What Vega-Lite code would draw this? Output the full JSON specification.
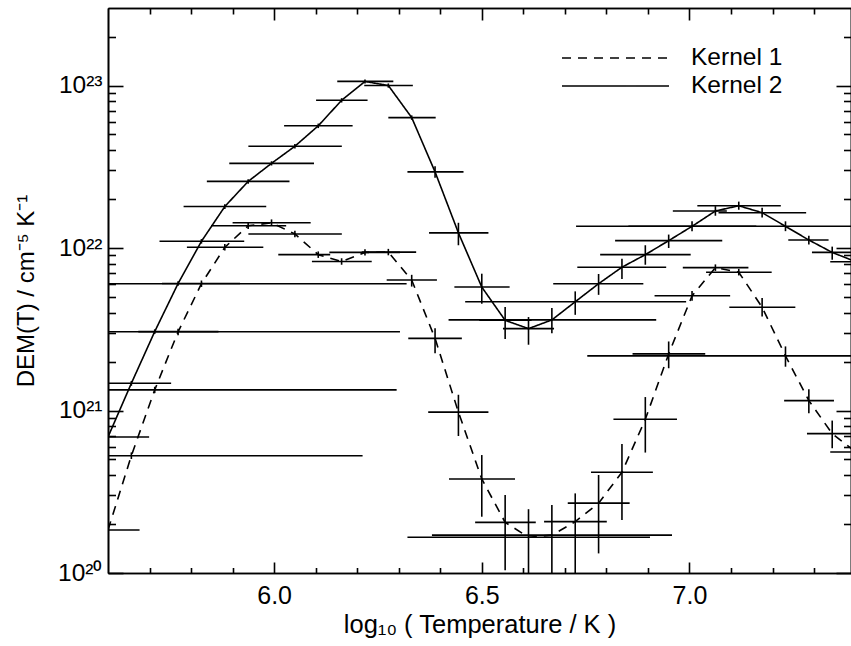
{
  "$schema": "https://vega.github.io/schema/vega-lite/v6.json",
  "width": 743,
  "height": 565,
  "autosize": {"type": "none"},
  "padding": {"left": 108, "top": 8, "right": 0, "bottom": 73},
  "background": "white",
  "config": {
    "view": {"stroke": null},
    "font": "Liberation Sans",
    "axis": {
      "grid": false,
      "domainColor": "black",
      "tickColor": "black",
      "labelColor": "black",
      "titleColor": "black",
      "domainWidth": 1.6,
      "tickWidth": 1.6,
      "labelFont": "Liberation Sans",
      "titleFont": "Liberation Sans",
      "titleFontWeight": "normal",
      "labelFlush": false,
      "labelOverlap": false
    }
  },
  "data": {
    "values": [
      {"kernel": "Kernel 2", "t": 5.6, "dem": 6.87e20, "tlo": 5.5, "thi": 5.699, "dlo": 6.6e20, "dhi": 7.15e20},
      {"kernel": "Kernel 2", "t": 5.65625, "dem": 1.47e21, "tlo": 5.5, "thi": 5.752, "dlo": 1.42e21, "dhi": 1.52e21},
      {"kernel": "Kernel 2", "t": 5.7125, "dem": 3.06e21, "tlo": 5.673, "thi": 5.866, "dlo": 2.96e21, "dhi": 3.16e21},
      {"kernel": "Kernel 2", "t": 5.76875, "dem": 6.05e21, "tlo": 5.73, "thi": 5.918, "dlo": 5.85e21, "dhi": 6.25e21},
      {"kernel": "Kernel 2", "t": 5.825, "dem": 1.10e22, "tlo": 5.724, "thi": 5.928, "dlo": 1.065e22, "dhi": 1.135e22},
      {"kernel": "Kernel 2", "t": 5.88125, "dem": 1.80e22, "tlo": 5.782, "thi": 5.981, "dlo": 1.74e22, "dhi": 1.86e22},
      {"kernel": "Kernel 2", "t": 5.9375, "dem": 2.57e22, "tlo": 5.838, "thi": 6.037, "dlo": 2.49e22, "dhi": 2.65e22},
      {"kernel": "Kernel 2", "t": 5.99375, "dem": 3.32e22, "tlo": 5.892, "thi": 6.096, "dlo": 3.22e22, "dhi": 3.42e22},
      {"kernel": "Kernel 2", "t": 6.05, "dem": 4.23e22, "tlo": 5.938, "thi": 6.163, "dlo": 4.10e22, "dhi": 4.36e22},
      {"kernel": "Kernel 2", "t": 6.10625, "dem": 5.65e22, "tlo": 6.024, "thi": 6.189, "dlo": 5.47e22, "dhi": 5.83e22},
      {"kernel": "Kernel 2", "t": 6.1625, "dem": 8.11e22, "tlo": 6.101, "thi": 6.225, "dlo": 7.86e22, "dhi": 8.36e22},
      {"kernel": "Kernel 2", "t": 6.21875, "dem": 1.06e23, "tlo": 6.152, "thi": 6.287, "dlo": 1.03e23, "dhi": 1.09e23},
      {"kernel": "Kernel 2", "t": 6.275, "dem": 1.00e23, "tlo": 6.217, "thi": 6.334, "dlo": 0.97e23, "dhi": 1.03e23},
      {"kernel": "Kernel 2", "t": 6.33125, "dem": 6.35e22, "tlo": 6.275, "thi": 6.389, "dlo": 6.15e22, "dhi": 6.55e22},
      {"kernel": "Kernel 2", "t": 6.3875, "dem": 2.94e22, "tlo": 6.321, "thi": 6.456, "dlo": 2.71e22, "dhi": 3.19e22},
      {"kernel": "Kernel 2", "t": 6.44375, "dem": 1.24e22, "tlo": 6.373, "thi": 6.516, "dlo": 1.04e22, "dhi": 1.43e22},
      {"kernel": "Kernel 2", "t": 6.5, "dem": 5.75e21, "tlo": 6.434, "thi": 6.567, "dlo": 4.54e21, "dhi": 6.95e21},
      {"kernel": "Kernel 2", "t": 6.55625, "dem": 3.59e21, "tlo": 6.494, "thi": 6.62, "dlo": 2.75e21, "dhi": 4.33e21},
      {"kernel": "Kernel 2", "t": 6.6125, "dem": 3.19e21, "tlo": 6.551, "thi": 6.674, "dlo": 2.54e21, "dhi": 3.76e21},
      {"kernel": "Kernel 2", "t": 6.66875, "dem": 3.61e21, "tlo": 6.42, "thi": 6.92, "dlo": 2.99e21, "dhi": 4.27e21},
      {"kernel": "Kernel 2", "t": 6.725, "dem": 4.67e21, "tlo": 6.46, "thi": 6.992, "dlo": 3.88e21, "dhi": 5.41e21},
      {"kernel": "Kernel 2", "t": 6.78125, "dem": 6.03e21, "tlo": 6.672, "thi": 6.889, "dlo": 5.15e21, "dhi": 6.92e21},
      {"kernel": "Kernel 2", "t": 6.8375, "dem": 7.62e21, "tlo": 6.73, "thi": 6.944, "dlo": 6.44e21, "dhi": 8.59e21},
      {"kernel": "Kernel 2", "t": 6.89375, "dem": 9.10e21, "tlo": 6.785, "thi": 7.003, "dlo": 7.89e21, "dhi": 1.04e22},
      {"kernel": "Kernel 2", "t": 6.95, "dem": 1.11e22, "tlo": 6.821, "thi": 7.079, "dlo": 1.0e22, "dhi": 1.21e22},
      {"kernel": "Kernel 2", "t": 7.00625, "dem": 1.36e22, "tlo": 6.853, "thi": 7.161, "dlo": 1.27e22, "dhi": 1.46e22},
      {"kernel": "Kernel 2", "t": 7.0625, "dem": 1.69e22, "tlo": 6.96, "thi": 7.09, "dlo": 1.58e22, "dhi": 1.81e22},
      {"kernel": "Kernel 2", "t": 7.11875, "dem": 1.82e22, "tlo": 7.019, "thi": 7.22, "dlo": 1.72e22, "dhi": 1.93e22},
      {"kernel": "Kernel 2", "t": 7.175, "dem": 1.65e22, "tlo": 7.07, "thi": 7.281, "dlo": 1.54e22, "dhi": 1.77e22},
      {"kernel": "Kernel 2", "t": 7.23125, "dem": 1.36e22, "tlo": 6.727, "thi": 7.45, "dlo": 1.27e22, "dhi": 1.46e22},
      {"kernel": "Kernel 2", "t": 7.2875, "dem": 1.12e22, "tlo": 7.238, "thi": 7.335, "dlo": 1.05e22, "dhi": 1.19e22},
      {"kernel": "Kernel 2", "t": 7.34375, "dem": 9.40e21, "tlo": 7.295, "thi": 7.45, "dlo": 8.47e21, "dhi": 1.02e22},
      {"kernel": "Kernel 2", "t": 7.4, "dem": 8.24e21, "tlo": 7.339, "thi": 7.46, "dlo": 7.69e21, "dhi": 8.83e21},
      {"kernel": "Kernel 1", "t": 5.6, "dem": 1.84e20, "tlo": 5.5, "thi": 5.676, "dlo": 1.76e20, "dhi": 1.93e20},
      {"kernel": "Kernel 1", "t": 5.65625, "dem": 5.27e20, "tlo": 5.5, "thi": 6.213, "dlo": 5.03e20, "dhi": 5.52e20},
      {"kernel": "Kernel 1", "t": 5.7125, "dem": 1.34e21, "tlo": 5.5, "thi": 6.295, "dlo": 1.28e21, "dhi": 1.40e21},
      {"kernel": "Kernel 1", "t": 5.76875, "dem": 3.05e21, "tlo": 5.5, "thi": 6.303, "dlo": 2.91e21, "dhi": 3.19e21},
      {"kernel": "Kernel 1", "t": 5.825, "dem": 6.03e21, "tlo": 5.5, "thi": 6.319, "dlo": 5.76e21, "dhi": 6.31e21},
      {"kernel": "Kernel 1", "t": 5.88125, "dem": 1.01e22, "tlo": 5.79, "thi": 5.974, "dlo": 0.965e22, "dhi": 1.057e22},
      {"kernel": "Kernel 1", "t": 5.9375, "dem": 1.37e22, "tlo": 5.848, "thi": 6.029, "dlo": 1.31e22, "dhi": 1.43e22},
      {"kernel": "Kernel 1", "t": 5.99375, "dem": 1.43e22, "tlo": 5.9, "thi": 6.088, "dlo": 1.37e22, "dhi": 1.50e22},
      {"kernel": "Kernel 1", "t": 6.05, "dem": 1.22e22, "tlo": 5.938, "thi": 6.163, "dlo": 1.165e22, "dhi": 1.277e22},
      {"kernel": "Kernel 1", "t": 6.10625, "dem": 9.10e21, "tlo": 6.01, "thi": 6.135, "dlo": 8.69e21, "dhi": 9.53e21},
      {"kernel": "Kernel 1", "t": 6.1625, "dem": 8.26e21, "tlo": 6.091, "thi": 6.235, "dlo": 7.89e21, "dhi": 8.65e21},
      {"kernel": "Kernel 1", "t": 6.21875, "dem": 9.40e21, "tlo": 6.133, "thi": 6.303, "dlo": 8.98e21, "dhi": 9.84e21},
      {"kernel": "Kernel 1", "t": 6.275, "dem": 9.44e21, "tlo": 6.211, "thi": 6.342, "dlo": 9.02e21, "dhi": 9.88e21},
      {"kernel": "Kernel 1", "t": 6.33125, "dem": 6.35e21, "tlo": 6.271, "thi": 6.392, "dlo": 5.79e21, "dhi": 6.84e21},
      {"kernel": "Kernel 1", "t": 6.3875, "dem": 2.78e21, "tlo": 6.323, "thi": 6.452, "dlo": 2.25e21, "dhi": 3.21e21},
      {"kernel": "Kernel 1", "t": 6.44375, "dem": 9.77e20, "tlo": 6.371, "thi": 6.516, "dlo": 6.97e20, "dhi": 1.25e21},
      {"kernel": "Kernel 1", "t": 6.5, "dem": 3.79e20, "tlo": 6.421, "thi": 6.58, "dlo": 2.22e20, "dhi": 5.32e20},
      {"kernel": "Kernel 1", "t": 6.55625, "dem": 2.05e20, "tlo": 6.484, "thi": 6.63, "dlo": 1.04e20, "dhi": 3.02e20},
      {"kernel": "Kernel 1", "t": 6.6125, "dem": 1.66e20, "tlo": 6.321, "thi": 6.905, "dlo": 7.9e19, "dhi": 2.47e20},
      {"kernel": "Kernel 1", "t": 6.66875, "dem": 1.71e20, "tlo": 6.38, "thi": 6.958, "dlo": 7.9e19, "dhi": 2.62e20},
      {"kernel": "Kernel 1", "t": 6.725, "dem": 2.07e20, "tlo": 6.65, "thi": 6.801, "dlo": 7.9e19, "dhi": 3.09e20},
      {"kernel": "Kernel 1", "t": 6.78125, "dem": 2.69e20, "tlo": 6.707, "thi": 6.856, "dlo": 1.32e20, "dhi": 4.01e20},
      {"kernel": "Kernel 1", "t": 6.8375, "dem": 4.17e20, "tlo": 6.763, "thi": 6.912, "dlo": 2.12e20, "dhi": 6.22e20},
      {"kernel": "Kernel 1", "t": 6.89375, "dem": 8.83e20, "tlo": 6.817, "thi": 6.97, "dlo": 5.51e20, "dhi": 1.21e21},
      {"kernel": "Kernel 1", "t": 6.95, "dem": 2.23e21, "tlo": 6.863, "thi": 7.038, "dlo": 1.82e21, "dhi": 2.66e21},
      {"kernel": "Kernel 1", "t": 7.00625, "dem": 5.08e21, "tlo": 6.916, "thi": 7.098, "dlo": 4.74e21, "dhi": 5.44e21},
      {"kernel": "Kernel 1", "t": 7.0625, "dem": 7.57e21, "tlo": 6.984, "thi": 7.142, "dlo": 7.23e21, "dhi": 7.93e21},
      {"kernel": "Kernel 1", "t": 7.11875, "dem": 7.10e21, "tlo": 7.04, "thi": 7.198, "dlo": 6.78e21, "dhi": 7.44e21},
      {"kernel": "Kernel 1", "t": 7.175, "dem": 4.32e21, "tlo": 7.096, "thi": 7.255, "dlo": 3.79e21, "dhi": 4.92e21},
      {"kernel": "Kernel 1", "t": 7.23125, "dem": 2.17e21, "tlo": 6.754, "thi": 7.45, "dlo": 1.86e21, "dhi": 2.48e21},
      {"kernel": "Kernel 1", "t": 7.2875, "dem": 1.15e21, "tlo": 7.228, "thi": 7.348, "dlo": 9.62e20, "dhi": 1.35e21},
      {"kernel": "Kernel 1", "t": 7.34375, "dem": 7.21e20, "tlo": 7.283, "thi": 7.45, "dlo": 5.86e20, "dhi": 8.67e20},
      {"kernel": "Kernel 1", "t": 7.4, "dem": 5.56e20, "tlo": 7.339, "thi": 7.46, "dlo": 4.57e20, "dhi": 6.76e20}
    ]
  },
  "layer": [
    {
      "mark": {"type": "line", "clip": true, "color": "black", "strokeWidth": 1.6},
      "encoding": {
        "x": {
          "field": "t", "type": "quantitative",
          "scale": {"domain": [5.6, 7.389], "nice": false, "zero": false},
          "axis": {
            "orient": "bottom", "values": [6.0, 6.5, 7.0], "format": ".1f",
            "tickSize": -11, "labelPadding": 21, "labelFontSize": 25,
            "title": "log₁₀ ( Temperature / K )", "titleFontSize": 25.5, "titlePadding": 4
          }
        },
        "y": {
          "field": "dem", "type": "quantitative",
          "scale": {"type": "log", "domain": [1e20, 3e23], "nice": false},
          "axis": {
            "orient": "left", "values": [1e20, 1e21, 1e22, 1e23],
            "labelExpr": "datum.value < 3e20 ? '10²⁰' : datum.value < 3e21 ? '10²¹' : datum.value < 3e22 ? '10²²' : '10²³'",
            "tickSize": -15, "labelPadding": 21, "labelFontSize": 24.5,
            "title": "DEM(T) / cm⁻⁵ K⁻¹", "titleFontSize": 24, "titlePadding": 19
          }
        },
        "strokeDash": {
          "field": "kernel", "type": "nominal",
          "scale": {"domain": ["Kernel 1", "Kernel 2"], "range": [[9, 7], [1, 0]]},
          "legend": {
            "orient": "none", "legendX": 453, "legendY": 36, "title": null,
            "symbolType": "stroke", "symbolSize": 11449, "symbolStrokeWidth": 1.6,
            "symbolStrokeColor": "black", "labelFontSize": 24.5, "labelFont": "Liberation Sans",
            "labelColor": "black", "labelOffset": 21, "padding": 0, "rowPadding": 0, "clipHeight": 28
          }
        }
      }
    },
    {
      "mark": {"type": "rule", "clip": true, "color": "black", "strokeWidth": 1.6},
      "encoding": {
        "x": {
          "field": "tlo", "type": "quantitative",
          "scale": {"domain": [5.6, 7.389], "nice": false, "zero": false},
          "axis": {"orient": "bottom", "values": [5.7, 5.8, 5.9, 6.1, 6.2, 6.3, 6.4, 6.6, 6.7, 6.8, 6.9, 7.1, 7.2, 7.3], "tickSize": -5.5, "labels": false, "title": null}
        },
        "x2": {"field": "thi"},
        "y": {
          "field": "dem", "type": "quantitative",
          "scale": {"type": "log", "domain": [1e20, 3e23], "nice": false},
          "axis": {"orient": "left", "values": [2e20, 3e20, 4e20, 5e20, 6e20, 7e20, 8e20, 9e20, 2e21, 3e21, 4e21, 5e21, 6e21, 7e21, 8e21, 9e21, 2e22, 3e22, 4e22, 5e22, 6e22, 7e22, 8e22, 9e22, 2e23], "tickSize": -7.5, "labels": false, "title": null}
        }
      }
    },
    {
      "mark": {"type": "rule", "clip": true, "color": "black", "strokeWidth": 1.6},
      "encoding": {
        "x": {
          "field": "t", "type": "quantitative",
          "scale": {"domain": [5.6, 7.389], "nice": false, "zero": false},
          "axis": {"orient": "top", "values": [6.0, 6.5, 7.0], "tickSize": -12, "labels": false, "title": null}
        },
        "y": {
          "field": "dlo", "type": "quantitative",
          "scale": {"type": "log", "domain": [1e20, 3e23], "nice": false},
          "axis": {"orient": "right", "values": [1e20, 1e21, 1e22, 1e23], "tickSize": -15, "labels": false, "title": null}
        },
        "y2": {"field": "dhi"}
      }
    },
    {
      "mark": {"type": "point", "opacity": 0},
      "encoding": {
        "x": {
          "field": "t", "type": "quantitative",
          "scale": {"domain": [5.6, 7.389], "nice": false, "zero": false},
          "axis": {"orient": "top", "values": [5.7, 5.8, 5.9, 6.1, 6.2, 6.3, 6.4, 6.6, 6.7, 6.8, 6.9, 7.1, 7.2, 7.3], "tickSize": -6, "labels": false, "title": null}
        },
        "y": {
          "field": "dem", "type": "quantitative",
          "scale": {"type": "log", "domain": [1e20, 3e23], "nice": false},
          "axis": {"orient": "right", "values": [2e20, 3e20, 4e20, 5e20, 6e20, 7e20, 8e20, 9e20, 2e21, 3e21, 4e21, 5e21, 6e21, 7e21, 8e21, 9e21, 2e22, 3e22, 4e22, 5e22, 6e22, 7e22, 8e22, 9e22, 2e23], "tickSize": -7.5, "labels": false, "title": null}
        }
      }
    }
  ],
  "resolve": {"axis": {"x": "independent", "y": "independent"}}
}
